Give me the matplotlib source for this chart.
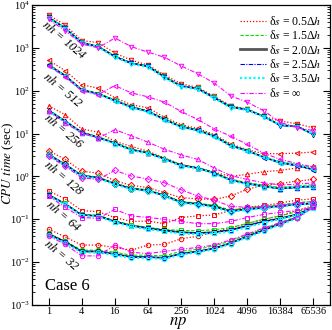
import matplotlib
matplotlib.use("Agg")
import matplotlib.pyplot as plt
from matplotlib.lines import Line2D
import matplotlib.ticker as mticker

plt.rcParams['font.family'] = ['Liberation Serif', 'DejaVu Serif']
plt.rcParams['mathtext.fontset'] = 'stix'

np_vals = [1, 2, 4, 8, 16, 32, 64, 128, 256, 512, 1024, 2048, 4096, 8192, 16384, 32768, 65536]
xtick_vals = [1, 4, 16, 64, 256, 1024, 4096, 16384, 65536]

series_labels = [r'δ$s$ = 0.5Δ$h$', r'δ$s$ = 1.5Δ$h$', r'δ$s$ = 2.0Δ$h$',
                 r'δ$s$ = 2.5Δ$h$', r'δ$s$ = 3.5Δ$h$', r'δ$s$ = ∞']
nh_labels = ['1024', '512', '256', '128', '64', '32']

# CPU time (sec) for each nh group; series: d05, d15, d20, d25, d35, dinf
nh1024_d05 = [5890, 3390, 1480, 1320, 759, 513, 398, 234, 145, 120, 74, 44.7, 37.2, 25.1, 19.5, 17.0, 13.5]
nh1024_d15 = [5300, 2950, 1350, 1100, 650, 450, 380, 215, 132, 114, 71, 43, 37, 25.5, 16, 15.2, 10]
nh1024_d20 = [5130, 2880, 1320, 1070, 631, 437, 372, 209, 129, 112, 69, 41.7, 36.3, 25.1, 15.5, 14.8, 9.5]
nh1024_d25 = [5100, 2870, 1310, 1060, 625, 433, 368, 206, 127, 111, 68, 41, 36, 24.8, 15.3, 14.6, 9.6]
nh1024_d35 = [4950, 2800, 1280, 1040, 610, 425, 360, 203, 125, 109, 67, 40.5, 35.5, 24.5, 15.8, 14.5, 9.8]
nh1024_dinf = [4680, 2510, 1230, 1000, 1700, 1070, 794, 603, 380, 251, 151, 76, 54, 34, 18.2, 13.8, 11.7]

nh512_d05 = [513, 295, 138, 115, 69, 47, 40, 24, 16.2, 13.2, 9.5, 5.75, 4.2, 3.4, 3.4, 3.5, 3.7]
nh512_d15 = [415, 230, 108, 88, 61, 43, 34, 22, 15, 12.4, 9.0, 5.4, 4.1, 2.9, 2.2, 1.9, 1.55]
nh512_d20 = [398, 224, 105, 85, 59, 41.7, 33.1, 21.4, 14.5, 12.0, 8.7, 5.25, 4.0, 2.8, 2.1, 1.8, 1.45]
nh512_d25 = [395, 222, 104, 84, 58.5, 41.3, 32.8, 21.2, 14.4, 11.9, 8.6, 5.2, 3.95, 2.75, 2.05, 1.78, 1.42]
nh512_d35 = [385, 218, 102, 83, 57.5, 40.5, 32.2, 20.8, 14.1, 11.7, 8.5, 5.1, 3.9, 2.8, 2.1, 1.85, 1.5]
nh512_dinf = [380, 209, 100, 81, 132, 89, 72, 54, 33, 21.4, 12.9, 8.7, 5.6, 3.5, 2.5, 2.0, 1.66]

nh256_d05 = [44.7, 27.5, 12.9, 10.7, 6.6, 5.0, 3.9, 2.7, 1.9, 1.58, 1.26, 1.0, 1.12, 1.29, 1.38, 1.58, 1.74]
nh256_d15 = [36, 20, 11.0, 8.4, 6.2, 4.35, 3.65, 2.65, 1.88, 1.62, 1.24, 0.86, 0.72, 0.63, 0.56, 0.6, 0.64]
nh256_d20 = [34.7, 19.5, 10.7, 8.1, 6.0, 4.2, 3.55, 2.57, 1.82, 1.58, 1.20, 0.83, 0.68, 0.59, 0.52, 0.56, 0.59]
nh256_d25 = [34.5, 19.3, 10.6, 8.0, 5.95, 4.15, 3.5, 2.55, 1.8, 1.56, 1.19, 0.82, 0.67, 0.58, 0.51, 0.55, 0.58]
nh256_d35 = [33.8, 19.0, 10.4, 7.9, 5.85, 4.1, 3.45, 2.5, 1.77, 1.54, 1.17, 0.81, 0.66, 0.58, 0.53, 0.57, 0.6]
nh256_dinf = [33, 17.8, 10.2, 7.8, 12.3, 8.9, 6.3, 4.3, 3.2, 2.5, 1.58, 1.05, 0.85, 0.71, 0.63, 0.66, 0.71]

nh128_d05 = [4.0, 2.5, 1.32, 1.2, 0.79, 0.62, 0.55, 0.42, 0.32, 0.30, 0.29, 0.35, 0.50, 0.63, 0.68, 0.78, 0.85]
nh128_d15 = [3.35, 1.95, 1.08, 0.96, 0.70, 0.54, 0.49, 0.37, 0.26, 0.24, 0.21, 0.165, 0.185, 0.2, 0.22, 0.245, 0.26]
nh128_d20 = [3.24, 1.9, 1.05, 0.93, 0.68, 0.52, 0.47, 0.36, 0.25, 0.23, 0.20, 0.155, 0.174, 0.186, 0.204, 0.224, 0.234]
nh128_d25 = [3.2, 1.88, 1.04, 0.92, 0.67, 0.515, 0.465, 0.355, 0.245, 0.225, 0.195, 0.152, 0.17, 0.182, 0.2, 0.22, 0.23]
nh128_d35 = [3.1, 1.85, 1.02, 0.9, 0.66, 0.5, 0.46, 0.35, 0.24, 0.22, 0.19, 0.15, 0.168, 0.18, 0.2, 0.22, 0.235]
nh128_dinf = [2.95, 1.74, 0.93, 0.85, 1.38, 1.02, 0.87, 0.71, 0.49, 0.35, 0.28, 0.20, 0.19, 0.20, 0.21, 0.24, 0.26]

nh64_d05 = [0.46, 0.30, 0.16, 0.15, 0.11, 0.089, 0.091, 0.079, 0.11, 0.12, 0.126, 0.16, 0.19, 0.21, 0.24, 0.28, 0.30]
nh64_d15 = [0.38, 0.235, 0.13, 0.125, 0.092, 0.074, 0.065, 0.058, 0.055, 0.054, 0.057, 0.064, 0.08, 0.1, 0.12, 0.15, 0.2]
nh64_d20 = [0.37, 0.23, 0.126, 0.12, 0.089, 0.071, 0.062, 0.055, 0.050, 0.048, 0.050, 0.056, 0.071, 0.089, 0.105, 0.13, 0.19]
nh64_d25 = [0.365, 0.228, 0.125, 0.119, 0.088, 0.07, 0.061, 0.054, 0.049, 0.047, 0.049, 0.055, 0.07, 0.088, 0.104, 0.13, 0.19]
nh64_d35 = [0.355, 0.222, 0.122, 0.116, 0.085, 0.068, 0.059, 0.052, 0.047, 0.045, 0.047, 0.052, 0.066, 0.084, 0.1, 0.125, 0.185]
nh64_dinf = [0.35, 0.19, 0.11, 0.105, 0.17, 0.12, 0.11, 0.10, 0.089, 0.079, 0.079, 0.089, 0.11, 0.13, 0.145, 0.16, 0.19]

nh32_d05 = [0.059, 0.039, 0.025, 0.025, 0.022, 0.019, 0.025, 0.026, 0.035, 0.04, 0.05, 0.063, 0.079, 0.10, 0.12, 0.16, 0.21]
nh32_d15 = [0.047, 0.031, 0.019, 0.019, 0.017, 0.0145, 0.0145, 0.014, 0.018, 0.02, 0.024, 0.031, 0.044, 0.06, 0.085, 0.115, 0.2]
nh32_d20 = [0.045, 0.030, 0.0178, 0.0178, 0.0155, 0.0132, 0.0132, 0.0126, 0.0158, 0.0178, 0.021, 0.028, 0.040, 0.056, 0.079, 0.11, 0.20]
nh32_d25 = [0.044, 0.029, 0.0175, 0.0175, 0.0152, 0.013, 0.013, 0.0124, 0.0155, 0.0175, 0.0205, 0.027, 0.039, 0.055, 0.078, 0.11, 0.2]
nh32_d35 = [0.043, 0.028, 0.0168, 0.0168, 0.0148, 0.0125, 0.0125, 0.012, 0.015, 0.017, 0.02, 0.027, 0.038, 0.053, 0.076, 0.105, 0.195]
nh32_dinf = [0.041, 0.026, 0.014, 0.014, 0.025, 0.017, 0.0158, 0.0178, 0.020, 0.022, 0.025, 0.033, 0.045, 0.063, 0.083, 0.11, 0.19]

groups = [
    ('1024', 'v', [nh1024_d05, nh1024_d15, nh1024_d20, nh1024_d25, nh1024_d35, nh1024_dinf]),
    ('512', '<', [nh512_d05, nh512_d15, nh512_d20, nh512_d25, nh512_d35, nh512_dinf]),
    ('256', '^', [nh256_d05, nh256_d15, nh256_d20, nh256_d25, nh256_d35, nh256_dinf]),
    ('128', 'D', [nh128_d05, nh128_d15, nh128_d20, nh128_d25, nh128_d35, nh128_dinf]),
    ('64', 's', [nh64_d05, nh64_d15, nh64_d20, nh64_d25, nh64_d35, nh64_dinf]),
    ('32', 'o', [nh32_d05, nh32_d15, nh32_d20, nh32_d25, nh32_d35, nh32_dinf]),
]

styles = [
    dict(color='#ff0000', ls=(0, (1, 1.5)), lw=0.9),
    dict(color='#00e000', ls=(0, (3, 1.5)), lw=0.8),
    dict(color='#000000', ls='-', lw=1.1),
    dict(color='#0000ff', ls=(0, (4, 1.2, 1, 1.2)), lw=0.8),
    dict(color='#00ffff', ls=(0, (1, 1)), lw=1.6),
    dict(color='#ff00ff', ls=(0, (4, 1.5, 1, 1.5)), lw=0.8),
]
draw_order = [0, 1, 5, 2, 3, 4]

fig = plt.figure(figsize=(3.32, 3.30), dpi=100)
ax = fig.add_axes([32/332, 1-305/330, (330-32)/332, 300/330])

for name, mk, ser in groups:
    for i in draw_order:
        st = styles[i]
        ax.plot(np_vals, ser[i], color=st['color'], ls=st['ls'], lw=st['lw'],
                marker=mk, ms=3.2, mfc='none', mec=st['color'], mew=0.7, zorder=2+i*0.1)

ax.set_xscale('log', base=2)
ax.set_yscale('log')
ax.set_xlim(0.5, 131072)
ax.set_ylim(1e-3, 1e4)
ax.set_xticks(xtick_vals)
ax.set_xticklabels([str(v) for v in xtick_vals])
ax.xaxis.set_minor_locator(mticker.NullLocator())
ax.yaxis.set_major_locator(mticker.LogLocator(base=10, numticks=20))
ax.yaxis.set_minor_locator(mticker.LogLocator(base=10, subs=range(2, 10), numticks=20))
ax.yaxis.set_major_formatter(mticker.LogFormatterMathtext())
ax.tick_params(which='both', direction='in', right=True, top=False)
ax.tick_params(axis='x', labelsize=7.5, pad=1.5)
ax.tick_params(axis='y', labelsize=7.5, pad=1.5)
ax.tick_params(which='major', length=5, width=0.8)
ax.tick_params(which='minor', length=2.5, width=0.6)
for sp in ax.spines.values():
    sp.set_linewidth(0.9)

fig.text(178/332, 1-325/330, '$np$', fontsize=12, ha='center', va='baseline')
fig.text(8/332, 1-163/330, '$CPU\\ time$ (sec)', fontsize=9.5, ha='center', va='center',
         rotation=90)

label_pos = [(65, 40), (63, 90), (64, 131), (64, 178), (64, 216), (62, 255)]
for (name, mk, ser), (px, py) in zip(groups, label_pos):
    fig.text(px/332, 1-py/330, '$nh$ = ' + name, rotation=-40, fontsize=9,
             ha='center', va='center', fontstyle='italic')

fig.text(45/332, 1-286/330, 'Case 6', fontsize=12, ha='left', va='center')

handles = [Line2D([], [], color=s['color'], ls=s['ls'], lw=s['lw']) for s in styles]
handles[2] = Line2D([], [], color='#555555', ls='-', lw=2.0)
ax.legend(handles, series_labels, loc='upper right', bbox_to_anchor=(1.0, 0.995),
          frameon=False, fontsize=8.5, handlelength=2.2, handletextpad=0.3,
          labelspacing=0.12, borderaxespad=0.3)

fig.savefig('out.png', dpi=100)
